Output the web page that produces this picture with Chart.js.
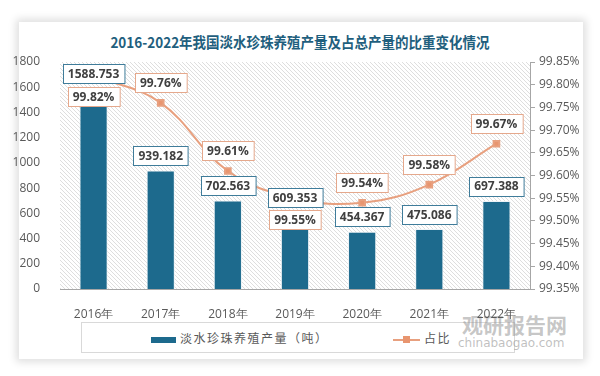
<!DOCTYPE html>
<html>
<head>
<meta charset="utf-8">
<script src="https://cdn.jsdelivr.net/npm/chart.js@4"></script>
<style>
  html, body { margin: 0; padding: 0; background: #fff; }
  #wrap { position: relative; width: 600px; height: 376px; overflow: hidden; }
  .card { position: absolute; left: 19px; top: 22px; width: 564px; height: 337px; background: #fff;
          box-shadow: 0 0 8px 3px rgba(0,0,0,0.13); }
  .title { position: absolute; left: 0; width: 600px; top: 31px; text-align: center;
           font: bold 15px "Noto Sans CJK SC", sans-serif; color: #1f5f7e; transform: scaleX(0.9); }
  .legend { position: absolute; left: 81px; top: 322px; width: 432px; height: 29px; border: 1px solid #d9d9d9;
            font: 12px "Noto Sans CJK SC", sans-serif; color: #595959; }
  .legend .item { position: absolute; top: 6px; letter-spacing: 1.5px; }
  .sw-bar { display: inline-block; width: 25px; height: 6px; background: #1d6a8d; vertical-align: middle; margin-right: 4px; }
  .sw-line { display: inline-block; position: relative; width: 27px; height: 2px; background: #e8a07f; vertical-align: middle; margin-right: 4px; }
  .sw-line i { position: absolute; left: 10px; top: -3px; width: 7px; height: 7px; background: #e8956f; }
  .wm1 { position: absolute; left: 462px; top: 309px; font: bold 21px "Noto Sans CJK SC", sans-serif; color: rgba(150,150,150,0.55); }
  .wm2 { position: absolute; left: 458px; top: 336px; font: 12px "DejaVu Sans", sans-serif; color: rgba(150,150,150,0.6); }
  canvas { position: absolute; left: 0; top: 0; }
</style>
</head>
<body>
<div id="wrap">
  <div class="card"></div>
  <div class="title">2016-2022年我国淡水珍珠养殖产量及占总产量的比重变化情况</div>
  <div class="legend">
    <span class="item" style="left:69px"><span class="sw-bar"></span>淡水珍珠养殖产量（吨）</span>
    <span class="item" style="left:311px"><span class="sw-line"><i></i></span>占比</span>
  </div>
  <div class="wm1">观研报告网</div>
  <div class="wm2">chinabaogao.com</div>
  <canvas id="chart" width="600" height="376"></canvas>
</div>
<script>
const years = ['2016年', '2017年', '2018年', '2019年', '2020年', '2021年', '2022年'];
const output = [1588.753, 939.182, 702.563, 609.353, 454.367, 475.086, 697.388];
const share = [99.82, 99.76, 99.61, 99.55, 99.54, 99.58, 99.67];

// where the share labels sit relative to their point
const shareLabelSide = ['below', 'above', 'above', 'below', 'above', 'above', 'above'];

const hatchBg = {
    id: 'hatchBg',
    beforeDatasetsDraw(chart) {
        const { ctx, chartArea: a } = chart;
        const tile = document.createElement('canvas');
        tile.width = 4; tile.height = 4;
        const t = tile.getContext('2d');
        t.strokeStyle = '#dedede';
        t.lineWidth = 1;
        t.beginPath();
        t.moveTo(-1, -1); t.lineTo(5, 5);
        t.moveTo(-1, 3); t.lineTo(1, 5);
        t.moveTo(3, -1); t.lineTo(5, 1);
        t.stroke();
        ctx.save();
        ctx.fillStyle = ctx.createPattern(tile, 'repeat');
        ctx.fillRect(a.left, a.top, a.right - a.left, a.bottom - a.top);
        ctx.restore();
    }
};

function box(ctx, text, cx, cy, border) {
    const w = ctx.measureText(text).width + 10;
    const h = 19;
    const x = Math.round(cx - w / 2) + 0.5, y = Math.round(cy - h / 2) + 0.5;
    ctx.fillStyle = '#fff';
    ctx.fillRect(x, y, w, h);
    ctx.strokeStyle = border;
    ctx.lineWidth = 1;
    ctx.strokeRect(x, y, w, h);
    ctx.fillStyle = '#404040';
    ctx.fillText(text, cx, cy + 1);
}

const boxLabels = {
    id: 'boxLabels',
    afterDatasetsDraw(chart) {
        const { ctx } = chart;
        ctx.save();
        ctx.font = 'bold 12px "Open Sans"';
        ctx.textAlign = 'center';
        ctx.textBaseline = 'middle';
        const lineMeta = chart.getDatasetMeta(0);
        const barMeta = chart.getDatasetMeta(1);
        lineMeta.data.forEach((pt, i) => {
            const dy = shareLabelSide[i] == 'below' ? 21 : -20;
            box(ctx, share[i].toFixed(2) + '%', pt.x, pt.y + dy, '#e5a88c');
        });
        barMeta.data.forEach((bar, i) => {
            box(ctx, output[i].toFixed(3), bar.x, bar.y - 15, '#3f7c9a');
        });
        ctx.restore();
    }
};

const tickFont = { family: 'Open Sans', size: 12 };

new Chart(document.getElementById('chart'), {
    data: {
        labels: years,
        datasets: [
            {
                type: 'line',
                label: '占比',
                data: share,
                yAxisID: 'y1',
                borderColor: '#e8a07f',
                borderWidth: 2,
                backgroundColor: '#e8956f',
                pointStyle: 'rect',
                pointRadius: 4,
                tension: 0.4,
                order: 0,
            },
            {
                type: 'bar',
                label: '淡水珍珠养殖产量（吨）',
                data: output,
                yAxisID: 'y',
                backgroundColor: '#1d6a8d',
                borderColor: 'rgba(235,242,246,0.9)',
                borderWidth: 1,
                barPercentage: 0.6,
                categoryPercentage: 0.7,
                order: 1,
            },
        ],
    },
    options: {
        responsive: false,
        animation: false,
        layout: { padding: { top: 62, left: 0, right: 0, bottom: 57 } },
        plugins: {
            legend: { display: false },
            title: { display: false },
            tooltip: { enabled: false },
        },
        scales: {
            x: {
                grid: { display: false },
                border: { color: '#a6a6a6' },
                ticks: { color: '#595959', font: tickFont, padding: 10 },
                afterFit: (s) => { s.height = 30; },
            },
            y: {
                position: 'left',
                min: 0,
                max: 1800,
                grid: { display: false },
                border: { display: false },
                ticks: { stepSize: 200, color: '#595959', font: tickFont, padding: 12, callback: (v) => String(v) },
                afterFit: (s) => { s.width = 60; },
            },
            y1: {
                position: 'right',
                min: 99.35,
                max: 99.85,
                grid: { drawOnChartArea: false, color: '#a6a6a6', tickLength: 5 },
                border: { color: '#a6a6a6' },
                ticks: {
                    stepSize: 0.05,
                    color: '#595959',
                    font: tickFont,
                    padding: 4,
                    callback: (v) => v.toFixed(2) + '%',
                },
                afterFit: (s) => { s.width = 70; },
            },
        },
    },
    plugins: [hatchBg, boxLabels],
});
</script>
</body>
</html>
